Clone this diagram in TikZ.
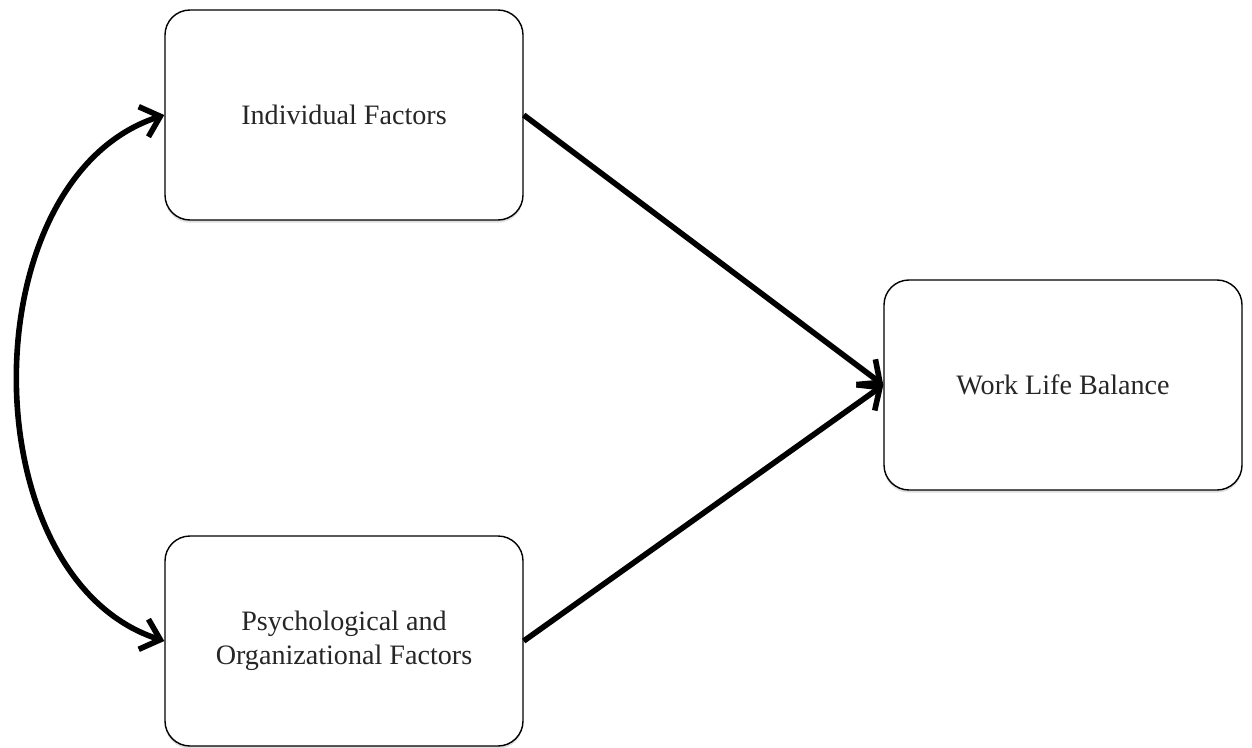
\documentclass[tikz,border=0pt]{standalone}
\usepackage{fontspec}
\setmainfont{Liberation Serif}
\usetikzlibrary{arrows.meta,shadows}

\tikzset{
    factor/.style={draw, rounded corners=0.5cm, minimum width=7.16cm, minimum height=4.2cm,
        line width=0.8pt, fill=white, align=center, text=black!85,
        font=\fontsize{16}{19.5}\selectfont,
        drop shadow={opacity=0.25, shadow xshift=0pt, shadow yshift=-1.5pt}},
    link/.style={line width=3.2pt, -{Straight Barb[length=10pt, width=18pt]}}
}

\begin{document}
\begin{tikzpicture}
    \useasboundingbox (0,0) rectangle (25.04,14.94);

    % Boxes
    \node[factor] (ind) at (6.88,12.64) {Individual Factors};
    \node[factor] (psy) at (6.88,2.12) {Psychological and\\Organizational Factors};
    \node[factor] (wlb) at (21.26,7.24) {Work Life Balance};

    % Effects on work life balance
    \draw[link] (ind.east) -- (wlb.west);
    \draw[link] (psy.east) -- (wlb.west);

    % Correlation
    \draw[link, {Straight Barb[length=10pt, width=18pt]}-{Straight Barb[length=10pt, width=18pt]}]
        (ind.west) to[bend right=72] (psy.west);
\end{tikzpicture}
\end{document}
